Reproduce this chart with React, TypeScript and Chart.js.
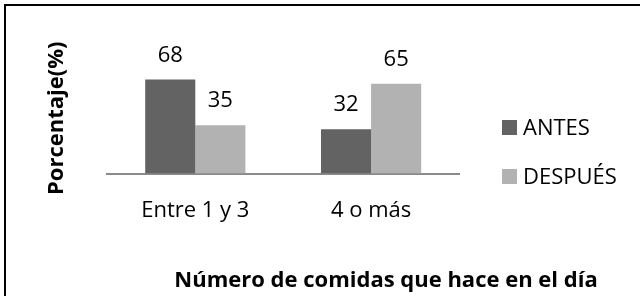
import { useEffect, useRef } from 'react';
import { Chart, registerables } from 'chart.js';

Chart.register(...registerables);

const categories = ['Entre 1 y 3', '4 o más'];
const seriesNames = ['ANTES', 'DESPUÉS'];
const antesValues = [68, 32];
const despuesValues = [35, 65];
const seriesColors = ['#636363', '#b2b2b2'];
const xAxisTitle = 'Número de comidas que hace en el día';
const yAxisTitle = 'Porcentaje(%)';
const yMax = 80;

const FAMILY = "'Open Sans', 'DejaVu Sans', sans-serif";

const valueLabels = {
  id: 'valueLabels',
  afterDatasetsDraw(chart: any) {
    const ctx = chart.ctx;
    ctx.save();
    ctx.font = `22px ${FAMILY}`;
    ctx.fillStyle = '#000';
    ctx.textAlign = 'center';
    ctx.textBaseline = 'alphabetic';
    chart.data.datasets.forEach((ds: any, i: number) => {
      const meta = chart.getDatasetMeta(i);
      meta.data.forEach((el: any, j: number) => {
        ctx.fillText(String(ds.data[j]), el.x, el.y - 18);
      });
    });
    ctx.restore();
  },
};

const sideLegend = {
  id: 'sideLegend',
  afterDraw(chart: any) {
    const ctx = chart.ctx;
    const right = chart.chartArea.right;
    ctx.save();
    ctx.font = `22px ${FAMILY}`;
    ctx.textAlign = 'left';
    ctx.textBaseline = 'alphabetic';
    chart.data.datasets.forEach((ds: any, i: number) => {
      const x = right + 43;
      const bottom = 135 + i * 49;
      ctx.fillStyle = ds.backgroundColor;
      ctx.fillRect(x, bottom - 15, 15, 15);
      ctx.fillStyle = '#000';
      ctx.fillText(ds.label, x + 21, bottom);
    });
    ctx.restore();
  },
};

const xTitlePlugin = {
  id: 'xTitlePlugin',
  afterDraw(chart: any) {
    const ctx = chart.ctx;
    ctx.save();
    ctx.font = `bold 22px ${FAMILY}`;
    ctx.fillStyle = '#000';
    ctx.textAlign = 'center';
    ctx.textBaseline = 'alphabetic';
    ctx.fillText(xAxisTitle, chart.chartArea.right - 73, 287);
    ctx.restore();
  },
};

export default function App() {
  const canvasRef = useRef<HTMLCanvasElement | null>(null);

  useEffect(() => {
    document.body.style.margin = '0';
    const canvas = canvasRef.current;
    if (!canvas) return;
    const chart = new Chart(canvas, {
      type: 'bar',
      data: {
        labels: categories,
        datasets: [
          { label: seriesNames[0], data: antesValues, backgroundColor: seriesColors[0] },
          { label: seriesNames[1], data: despuesValues, backgroundColor: seriesColors[1] },
        ],
      },
      options: {
        animation: false,
        responsive: false,
        devicePixelRatio: 1,
        layout: { padding: { left: 0, right: 181, top: 63, bottom: 48 } },
        datasets: { bar: { categoryPercentage: 0.57, barPercentage: 1 } },
        plugins: {
          legend: { display: false },
          tooltip: { enabled: false },
        },
        scales: {
          x: {
            grid: { display: false, drawTicks: false },
            border: { display: true, color: '#8a8a8a', width: 2 },
            ticks: { color: '#000', font: { family: FAMILY, size: 22 }, padding: 24 },
          },
          y: {
            min: 0,
            max: yMax,
            grid: { display: false, drawTicks: false },
            border: { display: false },
            ticks: { display: false },
            title: {
              display: true,
              text: yAxisTitle,
              color: '#000',
              font: { family: FAMILY, size: 22, weight: 'bold' },
              padding: { top: 44, bottom: 37 },
            },
          },
        },
      },
      plugins: [valueLabels, sideLegend, xTitlePlugin],
    });
    return () => chart.destroy();
  }, []);

  return (
    <div
      style={{
        position: 'fixed',
        left: 0,
        top: 0,
        width: 640,
        height: 296,
        overflow: 'hidden',
        background: '#fff',
      }}
    >
      <canvas ref={canvasRef} width={640} height={296} style={{ position: 'absolute', left: 0, top: 0 }} />
      <div
        style={{
          position: 'absolute',
          left: 4,
          top: 4,
          width: 700,
          height: 400,
          border: '2px solid #000',
          pointerEvents: 'none',
        }}
      />
    </div>
  );
}
